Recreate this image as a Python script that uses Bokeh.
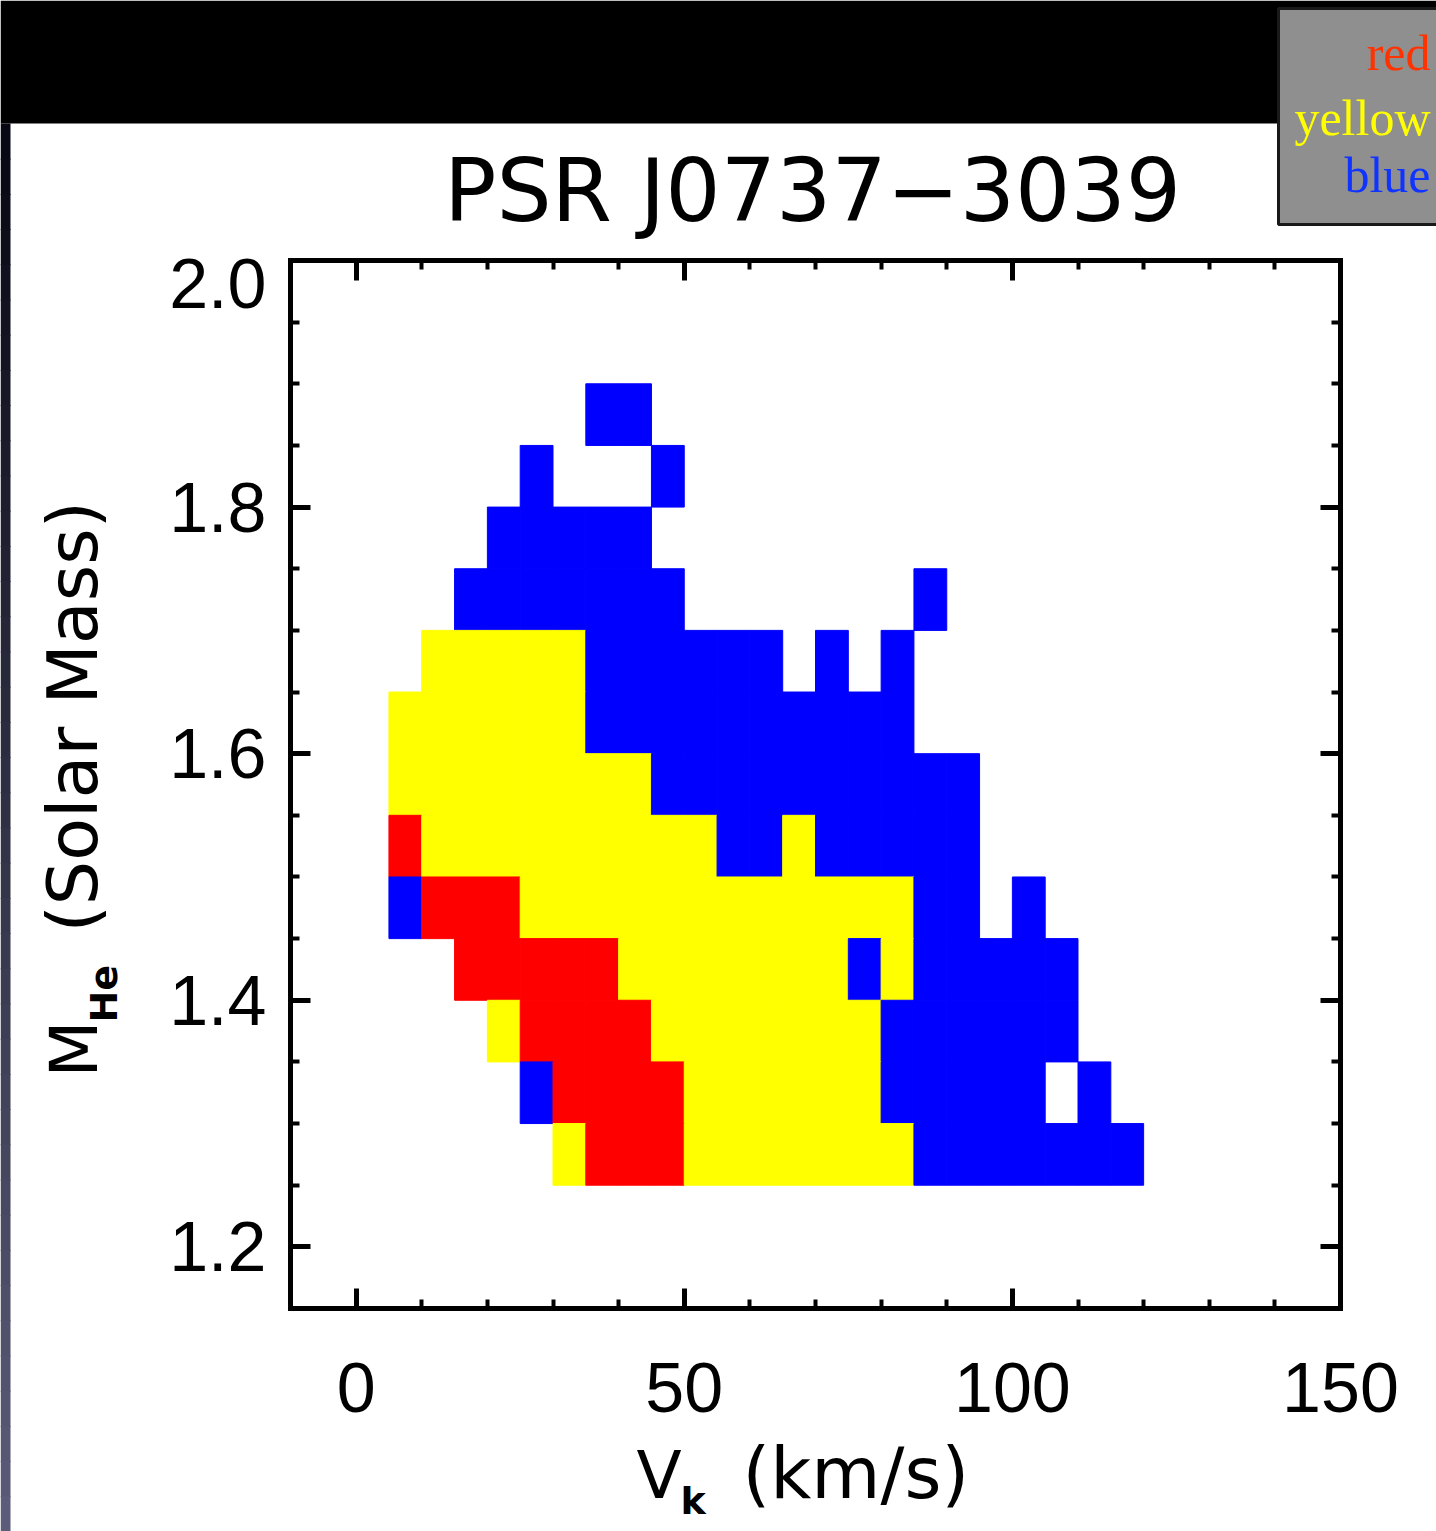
import numpy as np
from bokeh.plotting import figure
from bokeh.models import (FixedTicker, LinearAxis, NumeralTickFormatter, Label,
                          BoxAnnotation, ColumnDataSource)
from bokeh.embed import file_html
from bokeh.resources import INLINE

# ---------------- data ----------------
TITLE = "PSR J0737\u22123039"
X_LABEL_MAIN, X_LABEL_SUB, X_LABEL_UNITS = "V", "k", "(km/s)"
Y_LABEL_MAIN, Y_LABEL_SUB, Y_LABEL_UNITS = "M", "He", "(Solar Mass)"
LEGEND_NAMES = ["red", "yellow", "blue"]

x_limits = (-10, 150)
y_limits = (1.15, 2.0)
x_major_ticks = [0, 50, 100, 150]
x_minor_step = 10
y_major_ticks = [1.2, 1.4, 1.6, 1.8, 2.0]
y_minor_step = 0.05

# kick-velocity bins (lower edges, km/s) and He-star mass bins (lower edges, Msun)
vk_bin_width = 5
mhe_bin_height = 0.05
vk_bins = [5, 10, 15, 20, 25, 30, 35, 40, 45, 50, 55, 60, 65, 70, 75, 80,
           85, 90, 95, 100, 105, 110, 115]
mhe_bins = [1.85, 1.80, 1.75, 1.70, 1.65, 1.60, 1.55, 1.50, 1.45, 1.40,
            1.35, 1.30, 1.25]
# r = red, y = yellow, b = blue, . = empty ; one row per mass bin
grid_rows = [
    "......bb...............",  # 1.85
    "....b...b..............",  # 1.80
    "...bbbbb...............",  # 1.75
    "..bbbbbbb.......b......",  # 1.70
    ".yyyyybbbbbb.b.b.......",  # 1.65
    "yyyyyybbbbbbbbbb.......",  # 1.60
    "yyyyyyyybbbbbbbbbb.....",  # 1.55
    "ryyyyyyyyybbybbbbb.....",  # 1.50
    "brrryyyyyyyyyyyybb.b...",  # 1.45
    "..rrrrryyyyyyybybbbbb..",  # 1.40
    "...yrrrryyyyyyybbbbbb..",  # 1.35
    "....brrrryyyyyybbbbb.b.",  # 1.30
    ".....yrrryyyyyyybbbbbbb",  # 1.25
]
class_colors = {"r": "#ff0000", "y": "#ffff00", "b": "#0000ff"}
legend_colors = ["#ff3300", "#ffff00", "#1034ff"]

# ---------------- build cells ----------------
left, right, bottom, top, color = [], [], [], [], []
for m, row in zip(mhe_bins, grid_rows):
    for v, c in zip(vk_bins, row):
        if c in class_colors:
            left.append(v)
            right.append(v + vk_bin_width)
            bottom.append(m)
            top.append(m + mhe_bin_height)
            color.append(class_colors[c])
src = ColumnDataSource(dict(left=left, right=right, bottom=bottom, top=top, color=color))

# ---------------- page geometry ----------------
W, H = 1436, 1531
FRAME_L, FRAME_R, FRAME_T, FRAME_B = 290, 1340, 260, 1308   # plot box in page pixels
sx = (FRAME_R - FRAME_L) / (x_limits[1] - x_limits[0])
sy = (FRAME_B - FRAME_T) / (y_limits[1] - y_limits[0])
page_x = (x_limits[0] - FRAME_L / sx, x_limits[1] + (W - FRAME_R) / sx)
page_y = (y_limits[0] - (H - FRAME_B) / sy, y_limits[1] + FRAME_T / sy)

p = figure(width=W, height=H, x_range=page_x, y_range=page_y,
           output_backend="svg", toolbar_location=None,
           x_axis_location=None, y_axis_location=None, min_border=0)
p.title.visible = False
p.grid.visible = False
p.background_fill_color = "white"
p.border_fill_color = "white"
p.outline_line_color = None

p.quad(left="left", right="right", bottom="bottom", top="top", source=src,
       fill_color="color", line_color="color", line_width=1)

x_minor = [float(v) for v in np.arange(x_limits[0], x_limits[1] + 0.001, x_minor_step)]
y_minor = [round(float(v), 2) for v in np.arange(y_limits[0], y_limits[1] + 0.001, y_minor_step)]


def frame_axis(loc, bounds, ticker, labels=False):
    ax = LinearAxis(fixed_location=loc, bounds=bounds, ticker=ticker)
    ax.axis_line_width = 5
    ax.axis_line_color = "black"
    ax.axis_line_cap = "square"
    ax.major_tick_in = 20
    ax.major_tick_out = 0
    ax.minor_tick_in = 9
    ax.minor_tick_out = 0
    ax.major_tick_line_width = 5
    ax.minor_tick_line_width = 4
    ax.major_tick_line_color = "black"
    ax.minor_tick_line_color = "black"
    if labels:
        ax.major_label_text_font = "Liberation Sans"
        ax.major_label_text_font_size = "70px"
        ax.major_label_text_color = "black"
    else:
        ax.major_label_text_font_size = "0px"
        ax.major_label_text_color = None
    return ax


bottom_ax = frame_axis(y_limits[0], x_limits,
                       FixedTicker(ticks=x_major_ticks, minor_ticks=x_minor), labels=True)
bottom_ax.formatter = NumeralTickFormatter(format="0")
bottom_ax.major_label_standoff = 54
p.add_layout(bottom_ax, "below")
p.add_layout(frame_axis(y_limits[1], x_limits,
                        FixedTicker(ticks=x_major_ticks, minor_ticks=x_minor)), "above")
p.add_layout(frame_axis(x_limits[0], y_limits,
                        FixedTicker(ticks=y_major_ticks, minor_ticks=y_minor)), "left")
p.add_layout(frame_axis(x_limits[1], y_limits,
                        FixedTicker(ticks=y_major_ticks, minor_ticks=y_minor)), "right")

# y tick labels (the top one sits just under the frame corner, as in the original)
top_label_drop = 23 / sy
y_label_pos = [t if t < y_limits[1] else t - top_label_drop for t in y_major_ticks]
ylab_ax = LinearAxis(fixed_location=x_limits[0], bounds=y_limits,
                     ticker=FixedTicker(ticks=y_label_pos),
                     formatter=NumeralTickFormatter(format="0.0"))
ylab_ax.axis_line_color = None
ylab_ax.major_tick_line_color = None
ylab_ax.minor_tick_line_color = None
ylab_ax.major_tick_in = 0
ylab_ax.major_tick_out = 0
ylab_ax.major_label_standoff = 24
ylab_ax.major_label_text_font = "Liberation Sans"
ylab_ax.major_label_text_font_size = "70px"
ylab_ax.major_label_text_color = "black"
p.add_layout(ylab_ax, "left")

# ---------------- page decoration (canvas units) ----------------
def cbox(l, r, t, b, fill, line=None, lw=0):
    return BoxAnnotation(left=l, right=r, top=t, bottom=b,
                         left_units="canvas", right_units="canvas",
                         top_units="canvas", bottom_units="canvas",
                         fill_color=fill, fill_alpha=1.0,
                         line_color=line, line_width=lw,
                         line_alpha=1.0 if line else 0.0)

p.add_layout(cbox(0, W, 0, 123, "#000000"))
n_seg = 40
seg_h = (H - 123) / n_seg
c0 = np.array([8, 8, 20])
c1 = np.array([92, 92, 122])
for i in range(n_seg):
    t = i / (n_seg - 1)
    c = (c0 + (c1 - c0) * t).astype(int)
    p.add_layout(cbox(0, 10, 123 + i * seg_h, 123 + (i + 1) * seg_h + 1,
                      "#%02x%02x%02x" % tuple(c)))
p.add_layout(cbox(1278, W + 10, 8, 224, "#8f8f8f", "#1a1a1a", 3))

BASE_SHIFT = 0.35   # em offset between requested and rendered baseline


def clabel(x, y, text, size, font="DejaVu Sans", color="black", align="left",
           angle=0, style="normal"):
    if angle == 0:
        y = y - BASE_SHIFT * size
    else:
        x = x - BASE_SHIFT * size
    return Label(x=x, y=y, x_units="canvas", y_units="canvas", text=text,
                 text_font=font, text_font_size=f"{size}px", text_color=color,
                 text_align=align, text_baseline="alphabetic", angle=angle,
                 angle_units="deg", text_font_style=style)

p.add_layout(clabel(812, 221, TITLE, 87, align="center"))

# x-axis label
p.add_layout(clabel(636, 1498, X_LABEL_MAIN, 66))
p.add_layout(clabel(680, 1514, X_LABEL_SUB, 38, style="bold"))
p.add_layout(clabel(742, 1498, X_LABEL_UNITS, 71))

# y-axis label (rotated)
p.add_layout(clabel(97, 1077, Y_LABEL_MAIN, 66, angle=90))
p.add_layout(clabel(117, 1022, Y_LABEL_SUB, 38, angle=90, style="bold"))
p.add_layout(clabel(97, 932, Y_LABEL_UNITS, 70, angle=90))

# colour key inside the grey box at the top right
for name, col, yb in zip(LEGEND_NAMES, legend_colors, [70, 135, 192]):
    p.add_layout(clabel(1430, yb, name, 50, font="Liberation Serif", color=col,
                        align="right"))

open("out.html", "w").write(file_html(p, INLINE))
